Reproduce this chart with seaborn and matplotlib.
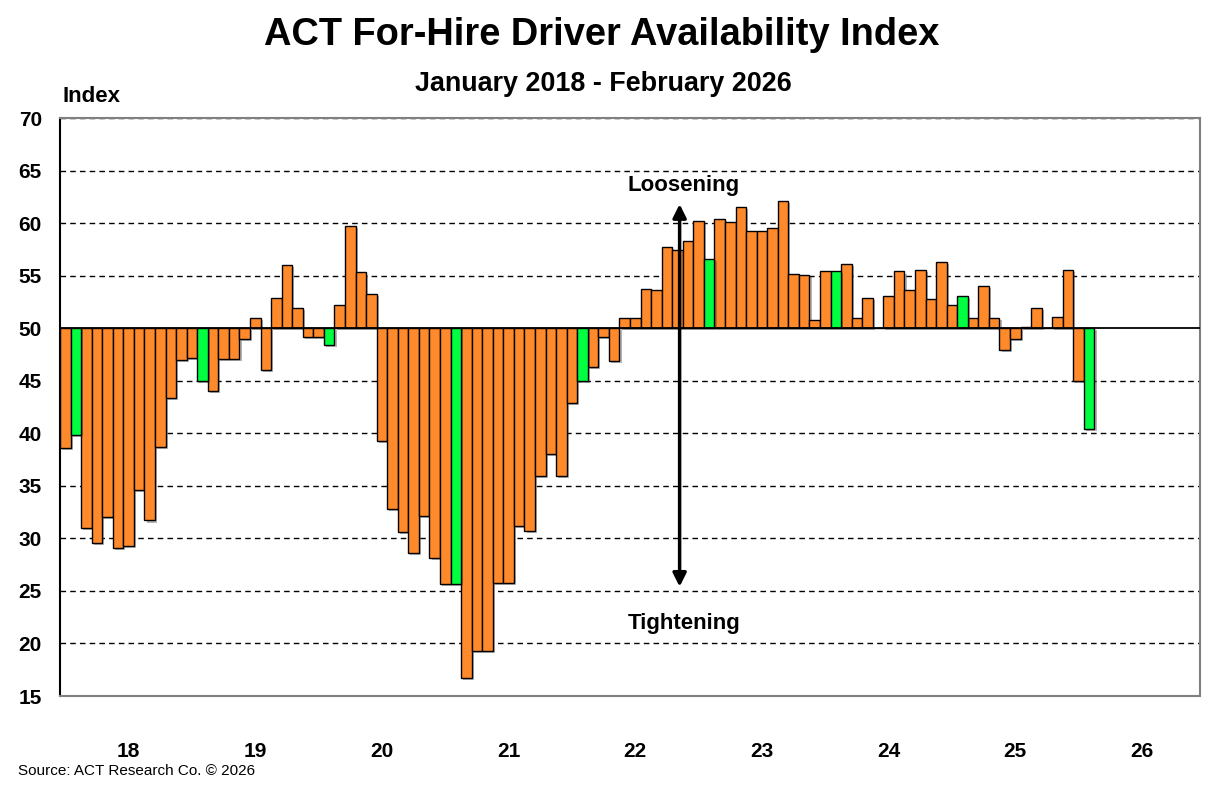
import pandas as pd
import matplotlib.pyplot as plt
import matplotlib.patheffects as pe
from matplotlib.ticker import FuncFormatter
import seaborn as sns

# monthly index values, Jan 2018 - Feb 2026
values_2018 = [38.6, 39.8, 31.0, 29.6, 32.0, 29.1, 29.3, 34.6, 31.7, 38.7, 43.4, 47.0]
values_2019 = [47.2, 45.0, 44.0, 47.1, 47.1, 49.0, 51.0, 46.0, 52.9, 56.0, 51.9, 49.2]
values_2020 = [49.2, 48.4, 52.2, 59.7, 55.3, 53.3, 39.3, 32.8, 30.6, 28.6, 32.1, 28.1]
values_2021 = [25.7, 25.7, 16.7, 19.3, 19.3, 25.8, 25.8, 31.2, 30.7, 35.9, 38.0, 35.9]
values_2022 = [42.9, 45.0, 46.3, 49.2, 46.9, 51.0, 51.0, 53.7, 53.6, 57.7, 57.4, 58.3]
values_2023 = [60.2, 56.6, 60.4, 60.1, 61.5, 59.2, 59.2, 59.5, 62.1, 55.2, 55.1, 50.8]
values_2024 = [55.4, 55.4, 56.1, 51.0, 52.9, 50.0, 53.1, 55.4, 53.6, 55.5, 52.8, 56.3]
values_2025 = [52.2, 53.1, 51.0, 54.0, 51.0, 47.9, 49.0, 50.1, 51.9, 50.0, 51.1, 55.5]
values_2026 = [45.0, 40.4]

index_values = (values_2018 + values_2019 + values_2020 + values_2021 + values_2022
                + values_2023 + values_2024 + values_2025 + values_2026)
year_labels = ["18", "19", "20", "21", "22", "23", "24", "25", "26"]
neutral = 50

months = pd.date_range("2018-01-01", periods=len(index_values), freq="MS")
all_slots = pd.date_range("2018-01-01", "2026-12-01", freq="MS").strftime("%Y-%m").tolist()

df = pd.DataFrame({
    "month": months.strftime("%Y-%m"),
    "value": index_values,
})
df["dev"] = df["value"] - neutral
df["kind"] = ["feb" if m.month == 2 else "other" for m in months]

sns.set_style("white")
plt.rcParams["font.family"] = ["Liberation Sans", "DejaVu Sans"]
plt.rcParams["text.color"] = "black"
plt.rcParams["xtick.color"] = "black"
plt.rcParams["ytick.color"] = "black"

fig = plt.figure(figsize=(12.24, 7.87), dpi=100)
ax = fig.add_axes([60 / 1224, 1 - 696 / 787, 1140 / 1224, 578 / 787])

# dashed grid, solid line at 50
for v in range(15, 75, 5):
    if v != neutral:
        ax.axhline(v - neutral, color="black", lw=1, ls=(0, (4, 3)), zorder=0)
ax.axhline(0, color="black", lw=1.3, zorder=3)

sns.barplot(data=df, x="month", y="dev", hue="kind", order=all_slots,
            palette={"other": "#FF8A2B", "feb": "#00FF40"}, dodge=False,
            width=1.0, edgecolor="black", linewidth=1.0, legend=False,
            saturation=1, ax=ax, zorder=2)

for p in ax.patches:
    p.set_path_effects([pe.SimplePatchShadow(offset=(1.5, -1.5), shadow_rgbFace="#444444", alpha=0.4),
                        pe.Normal()])

ax.set_xlim(-0.5, len(all_slots) - 0.5)
ax.set_ylim(15 - neutral, 70 - neutral)
ax.set_yticks([v - neutral for v in range(15, 75, 5)])
ax.yaxis.set_major_formatter(FuncFormatter(lambda y, _: f"{y + neutral:.0f}"))
ax.set_xticks([6 + 12 * k for k in range(len(year_labels))])
ax.set_xticklabels(year_labels)
ax.tick_params(axis="x", length=0, pad=33, labelsize=15, labelcolor="black")
ax.tick_params(axis="y", length=0, pad=13, labelsize=15, labelcolor="black")
for lab in ax.get_xticklabels() + ax.get_yticklabels():
    lab.set_fontweight("bold")
ax.set_xlabel("")
ax.set_ylabel("")

for side in ["top", "right", "bottom"]:
    ax.spines[side].set_color("#808080")
    ax.spines[side].set_linewidth(1.5)
ax.spines["left"].set_color("black")
ax.spines["left"].set_linewidth(1.5)

# loosening / tightening arrow
ax.annotate("", xy=(58.2, 61.8 - neutral), xytext=(58.2, 25.4 - neutral),
            arrowprops=dict(arrowstyle="<|-|>", color="black", lw=2.5,
                            mutation_scale=20, shrinkA=0, shrinkB=0), zorder=5)
ax.text(58.6, 63.6 - neutral, "Loosening", ha="center", va="center",
        fontsize=16, fontweight="bold", zorder=5)
ax.text(58.6, 21.9 - neutral, "Tightening", ha="center", va="center",
        fontsize=16, fontweight="bold", zorder=5)

fig.text(601.5 / 1224, 1 - 35 / 787, "ACT For-Hire Driver Availability Index",
         ha="center", va="center", fontsize=27.4, fontweight="bold")
fig.text(603.5 / 1224, 1 - 84 / 787, "January 2018 - February 2026",
         ha="center", va="center", fontsize=19.4, fontweight="bold")
fig.text(62 / 1224, 1 - 97 / 787, "Index", ha="left", va="center",
         fontsize=16, fontweight="bold")
fig.text(18 / 1224, 1 - 771 / 787, "Source: ACT Research Co. \u00a9 2026",
         ha="left", va="center", fontsize=11)

fig.savefig("out.png", dpi=100)
